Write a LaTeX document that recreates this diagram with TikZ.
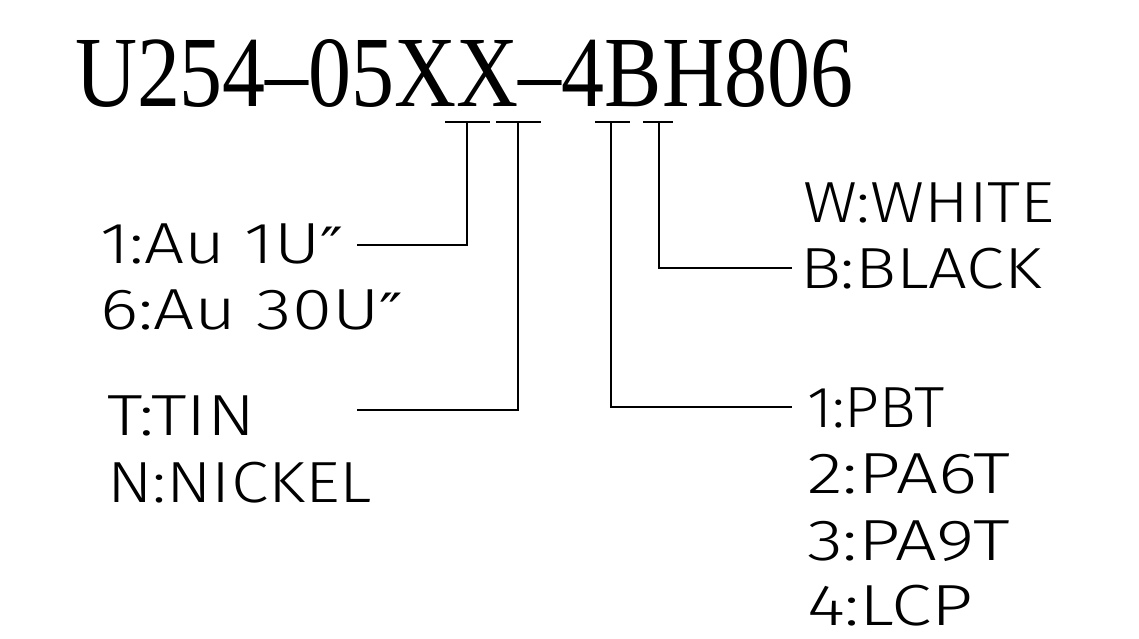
\documentclass[tikz,border=0pt]{standalone}
\usepackage{fontspec}
\usepackage{graphicx}
\newfontfamily\titlefont{Liberation Serif}
\newfontfamily\cadfont{Fira Sans Light}
\newfontfamily\primefont{DejaVu Sans}
\newcommand{\fitlbl}[2]{\resizebox{#1pt}{\height}{\cadfont\fontsize{58pt}{58pt}\selectfont #2}}
\newcommand{\dprime}{{\primefont\fontsize{50pt}{50pt}\selectfont ″}}
\begin{document}
\begin{tikzpicture}[x=1pt,y=-1pt,
  lbl/.style={anchor=base west,inner sep=0pt,outer sep=0pt},
  lead/.style={line width=1.6pt,line join=miter,line cap=butt},
  bar/.style={line width=1.6pt}]
\useasboundingbox[fill=white] (0,0) rectangle (1139,638);
% title
\node[lbl] (title) at (75,106) {\resizebox{778pt}{\height}{\titlefont\fontsize{100.8pt}{100.8pt}\selectfont U254–05XX–4BH806}};
% T bars under the code letters
\coordinate (b1l) at (445,122); \coordinate (b1r) at (490,122); \coordinate (s1) at (467,122);
\coordinate (b2l) at (496,122); \coordinate (b2r) at (541,122); \coordinate (s2) at (518,122);
\coordinate (b3l) at (595,122); \coordinate (b3r) at (630,122); \coordinate (s3) at (611,122);
\coordinate (b4l) at (643,122); \coordinate (b4r) at (673,122); \coordinate (s4) at (659,122);
\draw[bar] (b1l) -- (b1r);
\draw[bar] (b2l) -- (b2r);
\draw[bar] (b3l) -- (b3r);
\draw[bar] (b4l) -- (b4r);
% labels
\node[lbl] (au1) at (100,263) {\fitlbl{243}{1:Au 1U\dprime}};
\node[lbl] (au6) at (100,329) {\fitlbl{303}{6:Au 30U\dprime}};
\node[lbl] (tin) at (107,435) {\fitlbl{148}{T:TIN}};
\node[lbl] (nic) at (107,502) {\fitlbl{265}{N:NICKEL}};
\node[lbl] (wht) at (803,222) {\fitlbl{252}{W:WHITE}};
\node[lbl] (blk) at (800,288) {\fitlbl{242}{B:BLACK}};
\node[lbl] (pbt) at (807,427) {\fitlbl{138}{1:PBT}};
\node[lbl] (pa6) at (807,493) {\fitlbl{203}{2:PA6T}};
\node[lbl] (pa9) at (807,560) {\fitlbl{203}{3:PA9T}};
\node[lbl] (lcp) at (807,625) {\fitlbl{166}{4:LCP}};
% leader ends
\coordinate (e1) at (357,245);
\coordinate (e2) at (357,410);
\coordinate (e3) at (792,407);
\coordinate (e4) at (792,268);
\draw[lead] (s1) |- (e1);
\draw[lead] (s2) |- (e2);
\draw[lead] (s3) |- (e3);
\draw[lead] (s4) |- (e4);
\end{tikzpicture}
\end{document}
